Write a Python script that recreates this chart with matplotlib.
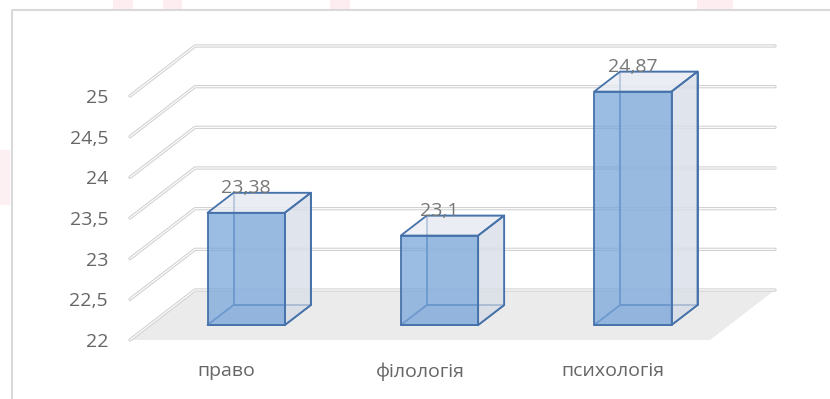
import matplotlib.pyplot as plt
from matplotlib.patches import Polygon, Rectangle
from matplotlib.lines import Line2D

categories = ["право", "філологія", "психологія"]
values = [23.38, 23.1, 24.87]
value_labels = ["23,38", "23,1", "24,87"]
y_ticks = [22, 22.5, 23, 23.5, 24, 24.5, 25]
y_ticklabels = ["22", "22,5", "23", "23,5", "24", "24,5", "25"]

plt.rcParams["font.family"] = ["Open Sans", "DejaVu Sans"]

W, H, DPI = 830, 399, 100
fig = plt.figure(figsize=(W / DPI, H / DPI), dpi=DPI)
ax = fig.add_axes([130 / W, 59 / H, 580 / W, 244 / H])
ax.set_xlim(0, len(categories))
ax.set_ylim(y_ticks[0], y_ticks[-1])
ax.set_frame_on(False)

# oblique depth of the plot box (pixels) -> data units
DEPTH_PX = (65, 50)
pos = ax.get_position()
dxu = DEPTH_PX[0] / (pos.width * W / len(categories))
dyu = DEPTH_PX[1] / (pos.height * H / (y_ticks[-1] - y_ticks[0]))


def proj(x, v, d):
    return (x + d * dxu, v + d * dyu)


base = y_ticks[0]
nx = len(categories)

# floor
ax.add_patch(Polygon([proj(0, base, 0), proj(nx, base, 0), proj(nx, base, 1), proj(0, base, 1)],
                     closed=True, fc="#ebebeb", ec="none", zorder=1, clip_on=False))

# side wall + back wall gridlines (double-line look)
for v in y_ticks:
    pts = [proj(0, v, 0), proj(0, v, 1), proj(nx, v, 1)]
    xs, ys = zip(*pts)
    ax.plot(xs, ys, color="#d2d2d2", lw=2.4, solid_capstyle="round", zorder=2, clip_on=False)
    ax.plot(xs, ys, color="white", lw=0.8, solid_capstyle="round", zorder=2.1, clip_on=False)

# transparent 3-D columns
EDGE = "#4672aa"
half, d0, d1 = 0.2, 0.3, 0.7
for i, v in enumerate(values):
    x0, x1 = i + 0.5 - half, i + 0.5 + half
    faces = [
        ([proj(x0, base, d1), proj(x1, base, d1), proj(x1, v, d1), proj(x0, v, d1)], "#e9edf3", 0.5, 3),
        ([proj(x0, base, d0), proj(x1, base, d0), proj(x1, base, d1), proj(x0, base, d1)], "#d6dde8", 0.5, 3),
        ([proj(x1, base, d0), proj(x1, base, d1), proj(x1, v, d1), proj(x1, v, d0)], "#d8dee7", 0.7, 4),
        ([proj(x0, v, d0), proj(x1, v, d0), proj(x1, v, d1), proj(x0, v, d1)], "#e7ebf2", 0.7, 4),
        ([proj(x0, base, d0), proj(x1, base, d0), proj(x1, v, d0), proj(x0, v, d0)], "#7aa6da", 0.75, 5),
    ]
    for pts, fc, a, z in faces:
        ax.add_patch(Polygon(pts, closed=True, fc=fc, alpha=a, zorder=z, clip_on=False))
        ax.add_patch(Polygon(pts, closed=True, fill=False, ec=EDGE, lw=1.3,
                             joinstyle="round", zorder=z + 0.5, clip_on=False))
    lx, ly = proj(i + 0.5, v, d1)
    ax.text(i + 0.5 + d0 * dxu, ly, value_labels[i], ha="center", va="baseline",
            fontsize=14, color="#777777", zorder=7)

ax.set_yticks(y_ticks)
ax.set_yticklabels(y_ticklabels)
ax.set_xticks([i + 0.5 for i in range(nx)])
ax.set_xticklabels(categories)
ax.tick_params(axis="y", length=0, pad=15.8, labelsize=14, labelcolor="#666666")
ax.tick_params(axis="x", length=0, pad=16, labelsize=14, labelcolor="#666666")

# chart frame (left and top edges)
fig.add_artist(Line2D([12 / W, 12 / W, 1.01], [-0.01, 1 - 10 / H, 1 - 10 / H],
                      transform=fig.transFigure, color="#d9d9d9", lw=1.5))

# faint pink marks along the top and left edges
for x, w in [(113, 20), (163, 19), (330, 20), (697, 36)]:
    fig.add_artist(Rectangle((x / W, 1 - 9 / H), w / W, 9 / H, transform=fig.transFigure,
                             fc="#fdedf0", ec="none", zorder=0))
fig.add_artist(Rectangle((0, 1 - 205 / H), 10 / W, 55 / H, transform=fig.transFigure,
                         fc="#fdf0f3", ec="none", zorder=0))

fig.savefig("out.png", dpi=DPI)
